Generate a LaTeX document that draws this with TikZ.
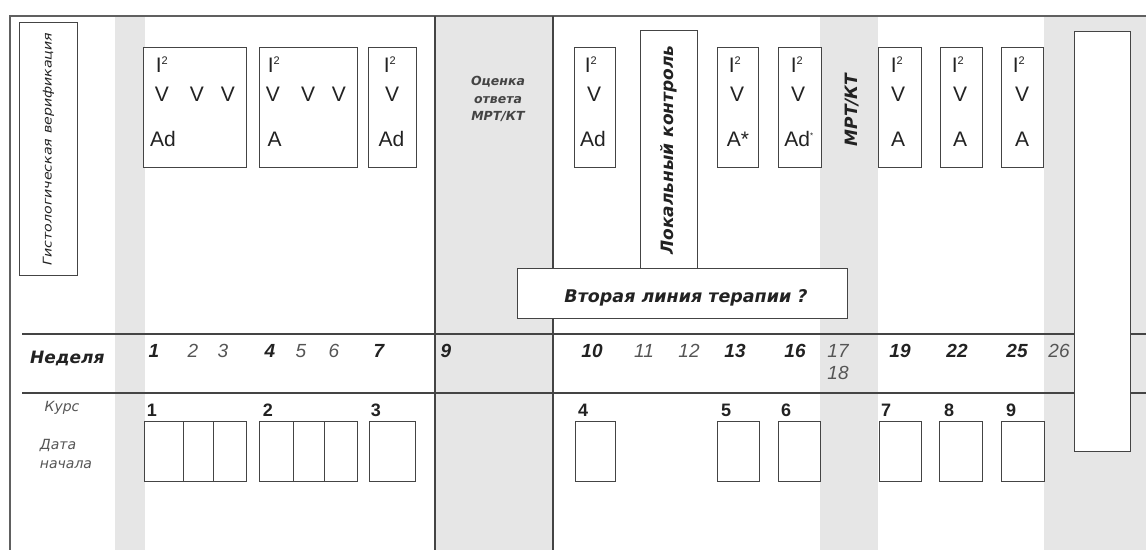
\documentclass[tikz,border=0pt]{standalone}
\usepackage{fontspec}
\usepackage{graphicx}
\setmainfont{Liberation Sans}
\newfontfamily\labelfont{DejaVu Sans}
\definecolor{band}{HTML}{E6E6E6}
\definecolor{linec}{HTML}{444444}
\definecolor{txt}{HTML}{222222}
\definecolor{lighttxt}{HTML}{555555}
\begin{document}
\begin{tikzpicture}[x=1pt,y=-1pt,
  box/.style={draw=linec, line width=1.1pt, fill=white, inner sep=0pt, anchor=north west},
  rule/.style={draw=linec, line width=1.1pt},
  frame/.style={draw=linec!85, line width=1.8pt},
  sym/.style={font=\fontsize{21}{21}\selectfont, text=txt, inner sep=0pt, anchor=base},
  wkb/.style={font=\fontsize{19}{19}\selectfont\bfseries\itshape, text=txt, inner sep=0pt, anchor=base},
  wkl/.style={font=\fontsize{19}{19}\selectfont\itshape, text=lighttxt, inner sep=0pt, anchor=base},
  crs/.style={font=\fontsize{18}{18}\selectfont\bfseries, text=txt, inner sep=0pt, anchor=base},
  side/.style={font=\labelfont\fontsize{14}{14}\selectfont\itshape, text=lighttxt, inner sep=0pt},
  head/.style={font=\labelfont\fontsize{17}{17}\selectfont\bfseries\itshape, text=txt, inner sep=0pt}]
\newcommand{\Isq}{I\textsuperscript{\fontsize{11}{11}\selectfont 2}}
\useasboundingbox (0,0) rectangle (1146,550);
\fill[white] (0,0) rectangle (1146,550);

% shaded week columns
\fill[band] (115,16) rectangle (145,550);
\fill[band] (435,16) rectangle (553,550);
\fill[band] (820,16) rectangle (878,550);
\fill[band] (1044,16) rectangle (1146,550);

% outer frame and column rules
\draw[frame] (1146,16) -- (10,16) -- (10,550);
\draw[rule] (435,16) -- (435,550);
\draw[rule] (553,16) -- (553,550);
\draw[rule] (22,334) -- (1146,334);
\draw[rule] (22,393) -- (1146,393);

% histology label
\node[box, minimum width=58pt, minimum height=253pt] (histbox) at (19,22) {};
\node[side, rotate=90, text=txt] (histtxt) at (histbox.center)
  {\scalebox{1.18}[1]{\fontsize{12}{12}\selectfont Гистологическая верификация}};

% treatment boxes, first block
\node[box, minimum width=103pt, minimum height=120pt] (t1) at (143,47) {};
\node[box, minimum width=98pt, minimum height=120pt] (t2) at (259,47) {};
\node[box, minimum width=48pt, minimum height=120pt] (t3) at (368,47) {};

\node[sym] (t1i) at (162,72) {\Isq};
\node[sym] (t1v1) at (162,101) {V};
\node[sym] (t1v2) at (197,101) {V};
\node[sym] (t1v3) at (228,101) {V};
\node[sym] (t1d) at (163,146) {Ad};

\node[sym] (t2i) at (274,72) {\Isq};
\node[sym] (t2v1) at (273,101) {V};
\node[sym] (t2v2) at (308,101) {V};
\node[sym] (t2v3) at (339,101) {V};
\node[sym] (t2d) at (274.5,146) {A};

\node[sym] (t3i) at (390,72) {\Isq};
\node[sym] (t3v) at (392,101) {V};
\node[sym] (t3d) at (391.5,146) {Ad};

% response assessment
\node[head, font=\labelfont\fontsize{12.5}{12.5}\selectfont\bfseries\itshape, text=linec,
      align=center] (resp) at (498,99)
  {Оценка\\[5pt]ответа\\[5pt]МРТ/КТ};

% second block
\node[box, minimum width=41pt, minimum height=120pt] (t4) at (574,47) {};
\node[sym] (t4i) at (591,72) {\Isq};
\node[sym] (t4v) at (594,101) {V};
\node[sym] (t4d) at (593,146) {Ad};

\node[box, minimum width=57pt, minimum height=238pt] (local) at (640,30) {};
\node[head, rotate=90] (localtxt) at (668.5,150) {Локальный контроль};

\node[box, minimum width=41pt, minimum height=120pt] (t5) at (717,47) {};
\node[sym] (t5i) at (735,72) {\Isq};
\node[sym] (t5v) at (737,101) {V};
\node[sym] (t5d) at (738,146) {A*};

\node[box, minimum width=43pt, minimum height=120pt] (t6) at (778,47) {};
\node[sym] (t6i) at (797,72) {\Isq};
\node[sym] (t6v) at (798,101) {V};
\node[sym] (t6d) at (799,146) {Ad\textsuperscript{\fontsize{8}{8}\selectfont *}};

\node[head, rotate=90] (mrt) at (852,110) {МРТ/КТ};

\node[box, minimum width=43pt, minimum height=120pt] (t7) at (878,47) {};
\node[sym] (t7i) at (897,72) {\Isq};
\node[sym] (t7v) at (898,101) {V};
\node[sym] (t7d) at (898,146) {A};

\node[box, minimum width=42pt, minimum height=120pt] (t8) at (940,47) {};
\node[sym] (t8i) at (958,72) {\Isq};
\node[sym] (t8v) at (960,101) {V};
\node[sym] (t8d) at (960,146) {A};

\node[box, minimum width=42pt, minimum height=120pt] (t9) at (1001,47) {};
\node[sym] (t9i) at (1019,72) {\Isq};
\node[sym] (t9v) at (1022,101) {V};
\node[sym] (t9d) at (1022,146) {A};

\node[box, minimum width=330pt, minimum height=50pt] (second) at (517,268) {};
\node[head, font=\labelfont\fontsize{17.5}{17.5}\selectfont\bfseries\itshape] (secondtxt)
  at (686,298) {Вторая линия терапии ?};

% closing column box
\node[box, minimum width=56pt, minimum height=420pt] (final) at (1074,31) {};

% week row
\node[head, anchor=base west] (weeklbl) at (30,363) {Неделя};
\node[wkb] (w1) at (154,357) {1};
\node[wkl] (w2) at (193,357) {2};
\node[wkl] (w3) at (223,357) {3};
\node[wkb] (w4) at (270,357) {4};
\node[wkl] (w5) at (301,357) {5};
\node[wkl] (w6) at (334,357) {6};
\node[wkb] (w7) at (379,357) {7};
\node[wkb] (w9) at (446,357) {9};
\node[wkb] (w10) at (592,357) {10};
\node[wkl] (w11) at (644,357) {11};
\node[wkl] (w12) at (689,357) {12};
\node[wkb] (w13) at (735,357) {13};
\node[wkb] (w16) at (795,357) {16};
\node[wkl] (w17) at (838,357) {17};
\node[wkl] (w18) at (838,379) {18};
\node[wkb] (w19) at (900,357) {19};
\node[wkb] (w22) at (957,357) {22};
\node[wkb] (w25) at (1017,357) {25};
\node[wkl] (w26) at (1059,357) {26};

% course row
\node[side] (courselbl) at (62,408) {Курс};
\node[side] (datelbl) at (58,445) {Дата};
\node[side] (startlbl) at (66,465) {начала};

\node[crs] (c1) at (152,416) {1};
\node[crs] (c2) at (268,416) {2};
\node[crs] (c3) at (376,416) {3};
\node[crs] (c4) at (583,416) {4};
\node[crs] (c5) at (726,416) {5};
\node[crs] (c6) at (786,416) {6};
\node[crs] (c7) at (886,416) {7};
\node[crs] (c8) at (949,416) {8};
\node[crs] (c9) at (1011,416) {9};

% start-date cells
\node[box, minimum width=39pt, minimum height=60pt] (d1a) at (144,421) {};
\node[box, minimum width=30pt, minimum height=60pt] (d1b) at (183,421) {};
\node[box, minimum width=33pt, minimum height=60pt] (d1c) at (213,421) {};
\node[box, minimum width=34pt, minimum height=60pt] (d2a) at (259,421) {};
\node[box, minimum width=31pt, minimum height=60pt] (d2b) at (293,421) {};
\node[box, minimum width=33pt, minimum height=60pt] (d2c) at (324,421) {};
\node[box, minimum width=46pt, minimum height=60pt] (d3) at (369,421) {};
\node[box, minimum width=40pt, minimum height=60pt] (d4) at (575,421) {};
\node[box, minimum width=42pt, minimum height=60pt] (d5) at (717,421) {};
\node[box, minimum width=42pt, minimum height=60pt] (d6) at (778,421) {};
\node[box, minimum width=42pt, minimum height=60pt] (d7) at (879,421) {};
\node[box, minimum width=43pt, minimum height=60pt] (d8) at (939,421) {};
\node[box, minimum width=43pt, minimum height=60pt] (d9) at (1001,421) {};
\end{tikzpicture}
\end{document}
